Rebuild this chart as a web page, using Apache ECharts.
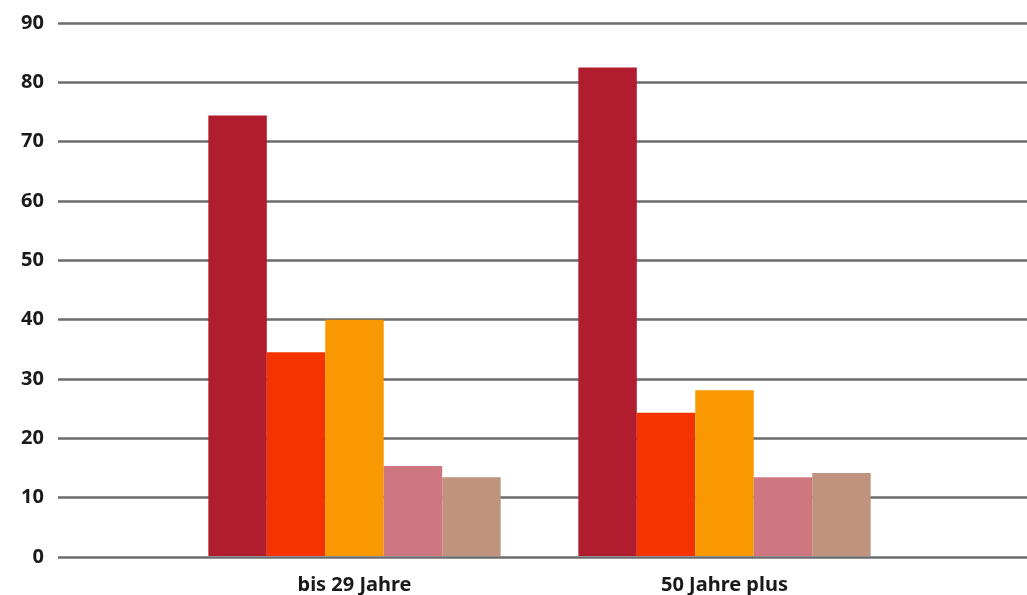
<!DOCTYPE html>
<html>
<head>
<meta charset="utf-8">
<script src="https://cdn.jsdelivr.net/npm/echarts@6/dist/echarts.min.js"></script>
<style>
  html, body { margin: 0; padding: 0; background: #fff; }
  #chart { width: 1027px; height: 595px; }
</style>
</head>
<body>
<div id="chart"></div>
<script>
// Age groups on the category axis
const categories = ['bis 29 Jahre', '50 Jahre plus'];

// Five series per age group
const seriesA = [74.4, 82.5];
const seriesB = [34.4, 24.2];
const seriesC = [39.9, 28.0];
const seriesD = [15.2, 13.3];
const seriesE = [13.3, 14.0];

// Value axis scale
const yMin = 0;
const yMax = 90;
const yStep = 10;

const colors = ['#b11d2f', '#f53300', '#f99800', '#cf7780', '#bf937e'];
const seriesValues = [seriesA, seriesB, seriesC, seriesD, seriesE];

const labelFont = { fontFamily: 'Noto Sans', fontWeight: 'bold', fontSize: 20, color: '#1a1a1a' };

const chart = echarts.init(document.getElementById('chart'), null, { renderer: 'canvas' });

chart.setOption({
  animation: false,
  backgroundColor: '#ffffff',
  grid: [
    // wide grid: horizontal rules and value labels
    { left: 58, right: 0, top: 23, bottom: 38 },
    // bar grid
    { left: 169.5, width: 740, top: 23, bottom: 38 }
  ],
  xAxis: [
    { gridIndex: 0, type: 'value', show: false, min: 0, max: 1 },
    {
      gridIndex: 1,
      type: 'category',
      data: categories,
      axisLine: { show: false },
      axisTick: { show: false },
      axisLabel: Object.assign({ margin: 19 }, labelFont)
    }
  ],
  yAxis: [
    {
      gridIndex: 0,
      type: 'value',
      min: yMin, max: yMax, interval: yStep,
      axisLine: { show: false },
      axisTick: { show: false },
      axisLabel: Object.assign({ margin: 14 }, labelFont),
      splitLine: { show: true, lineStyle: { color: '#6b6b6b', width: 2.5 } }
    },
    {
      gridIndex: 1,
      type: 'value',
      min: yMin, max: yMax, interval: yStep,
      show: false,
      splitLine: { show: false }
    }
  ],
  series: seriesValues.map((vals, i) => ({
    type: 'bar',
    xAxisIndex: 1,
    yAxisIndex: 1,
    data: vals,
    barGap: '0%',
    barCategoryGap: '21%',
    itemStyle: { color: colors[i] },
    z: 3
  }))
});
</script>
</body>
</html>
